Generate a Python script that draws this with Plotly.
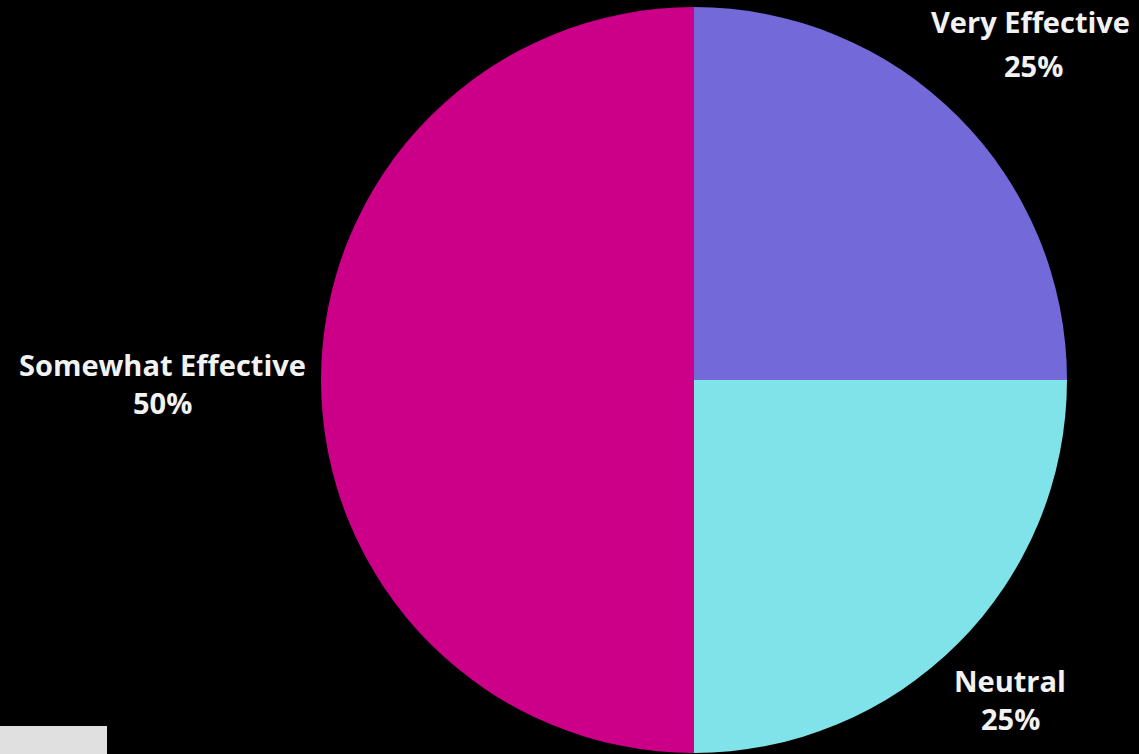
import plotly.graph_objects as go

W, H = 1139, 754

labels = ["Very Effective", "Neutral", "Somewhat Effective"]
values = [25, 25, 50]
colors = ["#7469D9", "#80E3E9", "#CC0088"]

# label layout (pixel centres) for name line and percent line
name_pos = [(1030, 21), (1010, 680), (162, 365)]
pct_pos = [(1033, 65), (1010, 718), (162, 402)]

fig = go.Figure()
fig.add_trace(go.Pie(
    labels=labels,
    values=values,
    marker=dict(colors=colors, line=dict(width=0)),
    sort=False,
    direction="clockwise",
    rotation=0,
    textinfo="none",
    hoverinfo="label+percent",
    showlegend=False,
    domain=dict(x=[321 / W, 1067 / W], y=[1 / H, 747 / H]),
))

total = sum(values)
font = dict(family="Open Sans", size=29, color="#F2F2F2", weight=700)
for lab, v, (nx, ny), (px, py) in zip(labels, values, name_pos, pct_pos):
    fig.add_annotation(x=nx / W, y=1 - ny / H, xref="paper", yref="paper",
                       text=lab, showarrow=False,
                       xanchor="center", yanchor="middle", font=font)
    fig.add_annotation(x=px / W, y=1 - py / H, xref="paper", yref="paper",
                       text=f"{round(100 * v / total)}%", showarrow=False,
                       xanchor="center", yanchor="middle", font=font)

fig.add_shape(type="rect", xref="paper", yref="paper",
              x0=0, x1=107 / W, y0=0, y1=28 / H,
              fillcolor="#E0E0E0", line=dict(width=0), layer="above")

fig.update_layout(
    width=W, height=H,
    margin=dict(l=0, r=0, t=0, b=0),
    paper_bgcolor="#000000",
    plot_bgcolor="#000000",
)

fig.write_html(
    "out.html",
    config={"displayModeBar": False},
    post_script="document.body.style.margin='0';document.body.style.background='#000';",
)
